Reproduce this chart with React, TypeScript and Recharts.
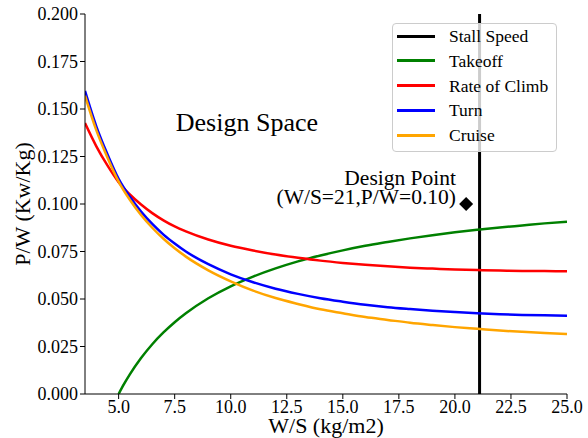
import React from 'react';
import {
  ComposedChart,
  Line,
  XAxis,
  YAxis,
  ReferenceLine,
  ReferenceDot,
  Legend,
} from 'recharts';

const FONT = '"Liberation Serif", "Times New Roman", Times, serif';

// W/S grid (kg/m2) for the curves that span the full range
const wsGrid = [3.5, 4, 4.5, 5, 5.5, 6, 6.5, 7, 7.5, 8, 9, 10, 11, 12, 13, 14, 15, 16, 17, 18, 19, 20, 21, 22, 23, 24, 25];
const rateOfClimb = [0.1426, 0.1305, 0.1203, 0.1115, 0.105, 0.0997, 0.0952, 0.0914, 0.0882, 0.0856, 0.0813, 0.078, 0.0755, 0.0734, 0.0717, 0.0702, 0.069, 0.068, 0.0672, 0.0665, 0.066, 0.0655, 0.0652, 0.065, 0.0648, 0.0647, 0.0646];
const turn = [0.1595, 0.141, 0.1262, 0.1132, 0.1038, 0.096, 0.0895, 0.0839, 0.0792, 0.075, 0.0683, 0.063, 0.0588, 0.0554, 0.0527, 0.0504, 0.0486, 0.047, 0.0457, 0.0447, 0.0438, 0.0431, 0.0425, 0.042, 0.0416, 0.0414, 0.0412];
const cruise = [0.157, 0.139, 0.1245, 0.1118, 0.1022, 0.0942, 0.0875, 0.0817, 0.0767, 0.0723, 0.0651, 0.0593, 0.0544, 0.0505, 0.0474, 0.0446, 0.0425, 0.0405, 0.039, 0.0375, 0.0363, 0.0352, 0.0343, 0.0334, 0.0327, 0.0321, 0.0316];

// Takeoff starts at W/S = 5
const takeoffWs = [5, 5.25, 5.5, 6, 6.5, 7, 7.5, 8, 9, 10, 11, 12, 13, 14, 15, 16, 17, 18, 19, 20, 21, 22, 23, 24, 25];
const takeoff = [0, 0.0054, 0.0103, 0.0189, 0.0262, 0.0324, 0.0378, 0.0425, 0.0504, 0.0567, 0.0618, 0.0661, 0.0698, 0.0729, 0.0756, 0.078, 0.08, 0.0819, 0.0836, 0.0851, 0.0864, 0.0876, 0.0887, 0.0898, 0.0907];

const stallSpeedWs = 21.1;
const designPoint = { ws: 20.5, pw: 0.1 };
const designLabelAnchor = { ws: 20.05, pw: 0.1 };
const designSpaceAnchor = { ws: 7.55, pw: 0.1385 };

const xTicks = [5, 7.5, 10, 12.5, 15, 17.5, 20, 22.5, 25];
const yTicks = [0, 0.025, 0.05, 0.075, 0.1, 0.125, 0.15, 0.175, 0.2];
const xDomain = [3.5, 25];
const yDomain = [0, 0.2];

const seriesNames = ['Stall Speed', 'Takeoff', 'Rate of Climb', 'Turn', 'Cruise'];
const seriesColors = ['#000000', '#008000', '#ff0000', '#0000ff', '#ffa500'];

const toPoints = (xs: number[], ys: number[]) => xs.map((x, i) => ({ x, y: ys[i] }));
const takeoffData = toPoints(takeoffWs, takeoff);
const climbData = toPoints(wsGrid, rateOfClimb);
const turnData = toPoints(wsGrid, turn);
const cruiseData = toPoints(wsGrid, cruise);

const LegendBox = () => (
  <div
    style={{
      width: 165,
      height: 129,
      boxSizing: 'border-box',
      border: '1px solid #cccccc',
      borderRadius: 4,
      background: 'rgba(255,255,255,0.8)',
      fontFamily: FONT,
      fontSize: 17.5,
      position: 'relative',
      color: '#000',
    }}
  >
    {seriesNames.map((n, i) => (
      <div
        key={n}
        style={{
          position: 'absolute',
          left: 0,
          top: 12 + i * 24.75 - 12,
          height: 24,
          display: 'flex',
          alignItems: 'center',
          whiteSpace: 'nowrap',
        }}
      >
        <div style={{ marginLeft: 4, width: 38, height: 3, background: seriesColors[i] }} />
        <span style={{ marginLeft: 14, lineHeight: '24px' }}>{n}</span>
      </div>
    ))}
  </div>
);

const Diamond = (props: any) => {
  const { cx, cy } = props;
  const h = 7;
  return (
    <polygon
      points={`${cx},${cy - h} ${cx + h},${cy} ${cx},${cy + h} ${cx - h},${cy}`}
      fill="#000"
      stroke="none"
    />
  );
};

const DesignPointLabel = (props: any) => {
  const { cx, cy } = props;
  return (
    <text x={cx} y={cy} textAnchor="end" fontFamily={FONT} fontSize={21.5} fill="#000">
      <tspan x={cx} dy={-19.5}>Design Point</tspan>
      <tspan x={cx} dy={19.5}>(W/S=21,P/W=0.10)</tspan>
    </text>
  );
};

const DesignSpaceLabel = (props: any) => {
  const { cx, cy } = props;
  return (
    <text x={cx} y={cy} textAnchor="start" fontFamily={FONT} fontSize={26} fill="#000">
      Design Space
    </text>
  );
};

const YLabel = (props: any) => {
  const vb = props.viewBox || { x: 0, y: 14, width: 85, height: 380 };
  const x = vb.x + 30;
  const y = vb.y + vb.height / 2;
  return (
    <text
      x={x}
      y={y}
      textAnchor="middle"
      transform={`rotate(-90 ${x} ${y})`}
      fontFamily={FONT}
      fontSize={22}
      fill="#000"
    >
      P/W (Kw/Kg)
    </text>
  );
};

const XLabel = (props: any) => {
  const vb = props.viewBox || { x: 85, y: 394, width: 482, height: 44 };
  const x = vb.x + vb.width / 2;
  const y = vb.y + vb.height - 5;
  return (
    <text x={x} y={y} textAnchor="middle" fontFamily={FONT} fontSize={22} fill="#000">
      W/S (kg/m2)
    </text>
  );
};

export default function App() {
  const tickStyle = { fill: '#000', fontSize: 18, fontFamily: FONT };
  return (
    <div style={{ position: 'absolute', left: 0, top: 0, width: 588, height: 438, background: '#fff' }}>
      <ComposedChart
        width={588}
        height={438}
        margin={{ top: 14, right: 21, bottom: 0, left: 0 }}
      >
        <XAxis
          dataKey="x"
          type="number"
          domain={xDomain}
          ticks={xTicks}
          interval={0}
          allowDataOverflow
          tickFormatter={(v: number) => v.toFixed(1)}
          tick={tickStyle}
          tickLine={{ stroke: '#000' }}
          axisLine={{ stroke: '#000' }}
          tickSize={5}
          tickMargin={1}
          height={44}
          label={<XLabel />}
        />
        <XAxis
          xAxisId="top"
          orientation="top"
          dataKey="x"
          type="number"
          domain={xDomain}
          allowDataOverflow
          tick={false}
          tickLine={false}
          axisLine={{ stroke: '#000' }}
          height={0}
        />
        <YAxis
          type="number"
          domain={yDomain}
          ticks={yTicks}
          interval={0}
          allowDataOverflow
          tickFormatter={(v: number) => v.toFixed(3)}
          tick={tickStyle}
          tickLine={{ stroke: '#000' }}
          axisLine={{ stroke: '#000' }}
          tickSize={5}
          tickMargin={2}
          width={85}
          label={<YLabel />}
        />
        <YAxis
          yAxisId="right"
          orientation="right"
          type="number"
          domain={yDomain}
          allowDataOverflow
          tick={false}
          tickLine={false}
          axisLine={{ stroke: '#000' }}
          width={0}
        />
        <ReferenceLine x={stallSpeedWs} stroke={seriesColors[0]} strokeWidth={3} />
        <Line data={takeoffData} dataKey="y" name={seriesNames[1]} type="monotone" stroke={seriesColors[1]} strokeWidth={2.5} dot={false} activeDot={false} isAnimationActive={false} />
        <Line data={climbData} dataKey="y" name={seriesNames[2]} type="monotone" stroke={seriesColors[2]} strokeWidth={2.5} dot={false} activeDot={false} isAnimationActive={false} />
        <Line data={turnData} dataKey="y" name={seriesNames[3]} type="monotone" stroke={seriesColors[3]} strokeWidth={2.5} dot={false} activeDot={false} isAnimationActive={false} />
        <Line data={cruiseData} dataKey="y" name={seriesNames[4]} type="monotone" stroke={seriesColors[4]} strokeWidth={2.5} dot={false} activeDot={false} isAnimationActive={false} />
        <ReferenceDot x={designPoint.ws} y={designPoint.pw} r={7} shape={<Diamond />} />
        <ReferenceDot x={designLabelAnchor.ws} y={designLabelAnchor.pw} r={1} shape={<DesignPointLabel />} />
        <ReferenceDot x={designSpaceAnchor.ws} y={designSpaceAnchor.pw} r={1} shape={<DesignSpaceLabel />} />
        <Legend
          layout="horizontal"
          verticalAlign="middle"
          align="center"
          content={<LegendBox />}
          wrapperStyle={{ position: 'absolute', left: 392, top: 23, width: 165, height: 129, margin: 0, padding: 0 }}
        />
      </ComposedChart>
    </div>
  );
}
